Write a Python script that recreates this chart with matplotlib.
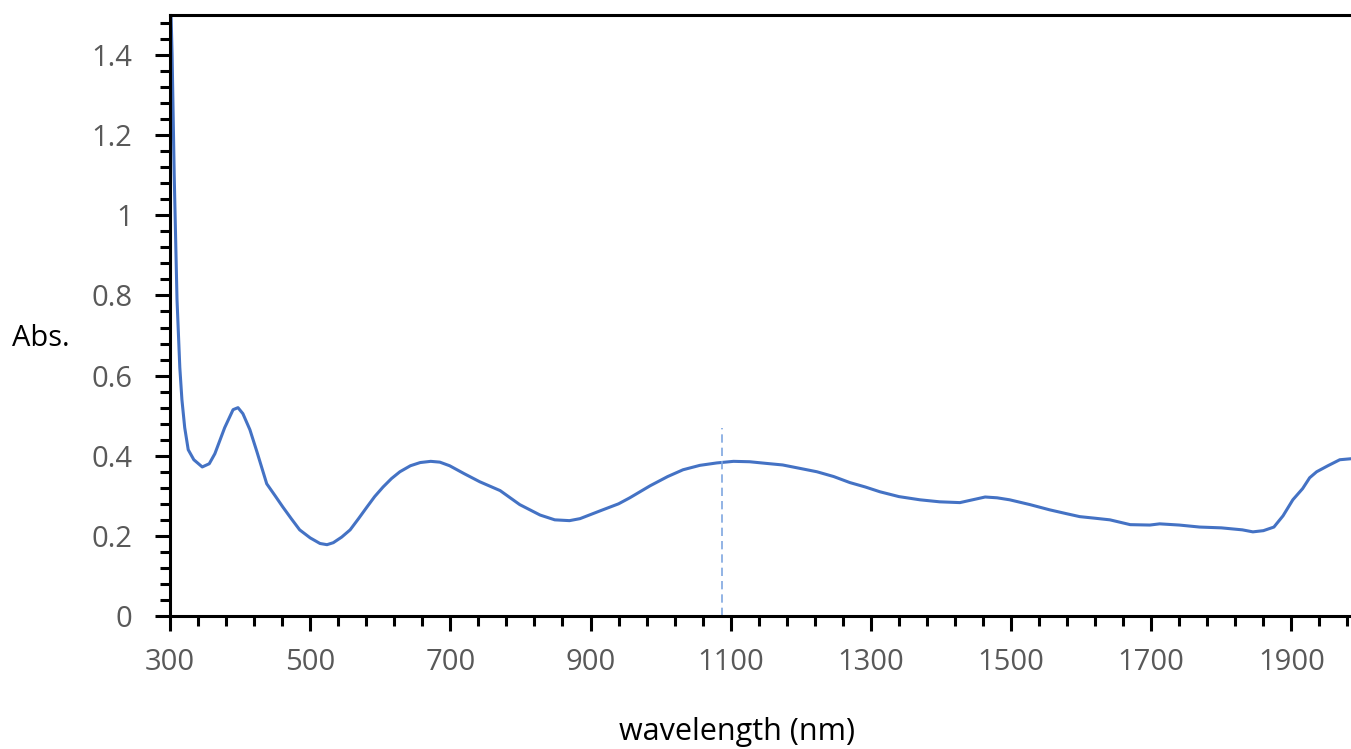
import matplotlib.pyplot as plt
from matplotlib.ticker import MultipleLocator, FuncFormatter

# absorbance spectrum
wavelength = [300, 303, 306, 310, 314, 317, 321, 326, 334, 346, 356, 364, 378, 390, 397,
              404, 414, 424, 438, 450, 461, 473, 485, 500, 514, 524, 533, 545, 557, 569,
              581, 592, 604, 616, 628, 643, 657, 672, 685, 699, 720, 742, 771, 799, 828,
              849, 870, 885, 913, 940, 956, 985, 1010, 1032, 1056, 1080, 1104, 1127, 1150,
              1174, 1200, 1223, 1247, 1270, 1292, 1313, 1340, 1370, 1398, 1427, 1445, 1463,
              1480, 1498, 1527, 1555, 1580, 1598, 1620, 1641, 1670, 1698, 1712, 1740, 1769,
              1800, 1830, 1845, 1860, 1875, 1888, 1902, 1916, 1926, 1936, 1952, 1969, 1985]
absorbance = [1.60, 1.40, 1.10, 0.79, 0.62, 0.54, 0.47, 0.415, 0.39, 0.372, 0.38, 0.405, 0.47,
              0.515, 0.52, 0.505, 0.465, 0.41, 0.33, 0.30, 0.272, 0.243, 0.215, 0.195, 0.181,
              0.178, 0.183, 0.197, 0.215, 0.243, 0.272, 0.298, 0.322, 0.343, 0.36, 0.375,
              0.383, 0.386, 0.384, 0.375, 0.355, 0.335, 0.313, 0.278, 0.252, 0.24, 0.238,
              0.243, 0.262, 0.28, 0.295, 0.325, 0.348, 0.365, 0.376, 0.382, 0.386, 0.385,
              0.381, 0.377, 0.368, 0.36, 0.348, 0.333, 0.322, 0.31, 0.298, 0.29, 0.285,
              0.283, 0.29, 0.297, 0.295, 0.29, 0.278, 0.265, 0.255, 0.248, 0.244, 0.24,
              0.228, 0.227, 0.23, 0.227, 0.222, 0.22, 0.215, 0.21, 0.213, 0.222, 0.25,
              0.29, 0.318, 0.345, 0.36, 0.375, 0.39, 0.3925]

marker_nm = 1087
marker_top = 0.47

plt.rcParams['font.family'] = ['Open Sans', 'DejaVu Sans']

fig = plt.figure(figsize=(13.51, 7.49), dpi=100)
ax = fig.add_axes([170 / 1351, 133 / 749, 1181 / 1351, 601 / 749])

ax.plot(wavelength, absorbance, color='#4472C4', linewidth=2.2, solid_joinstyle='round')
ax.vlines(marker_nm, 0, marker_top, colors='#7FA7E0', linestyles=(0, (5, 3)), linewidth=1.2)

ax.set_xlim(300, 1985)
ax.set_ylim(0, 1.5)

ax.xaxis.set_major_locator(MultipleLocator(200, offset=100))
ax.xaxis.set_minor_locator(MultipleLocator(40, offset=20))
ax.yaxis.set_major_locator(MultipleLocator(0.2))
ax.yaxis.set_minor_locator(MultipleLocator(0.04))
ax.yaxis.set_major_formatter(FuncFormatter(lambda v, p: f'{v:g}'))

ax.spines['right'].set_visible(False)
for side in ['left', 'bottom', 'top']:
    ax.spines[side].set_linewidth(2.2)

ax.tick_params(axis='both', which='major', direction='out', width=2.2, length=11,
               labelsize=21, labelcolor='#595959')
ax.tick_params(axis='both', which='minor', direction='out', width=2.2, length=7)
ax.tick_params(axis='x', which='major', pad=12)
ax.tick_params(axis='y', which='major', pad=16)

fig.text(12 / 1351, 1 - 346 / 749, 'Abs.', fontsize=21, ha='left', va='baseline')
fig.text(737 / 1351, 1 - 740 / 749, 'wavelength (nm)', fontsize=22, ha='center', va='baseline')

fig.savefig('out.png', dpi=100)
